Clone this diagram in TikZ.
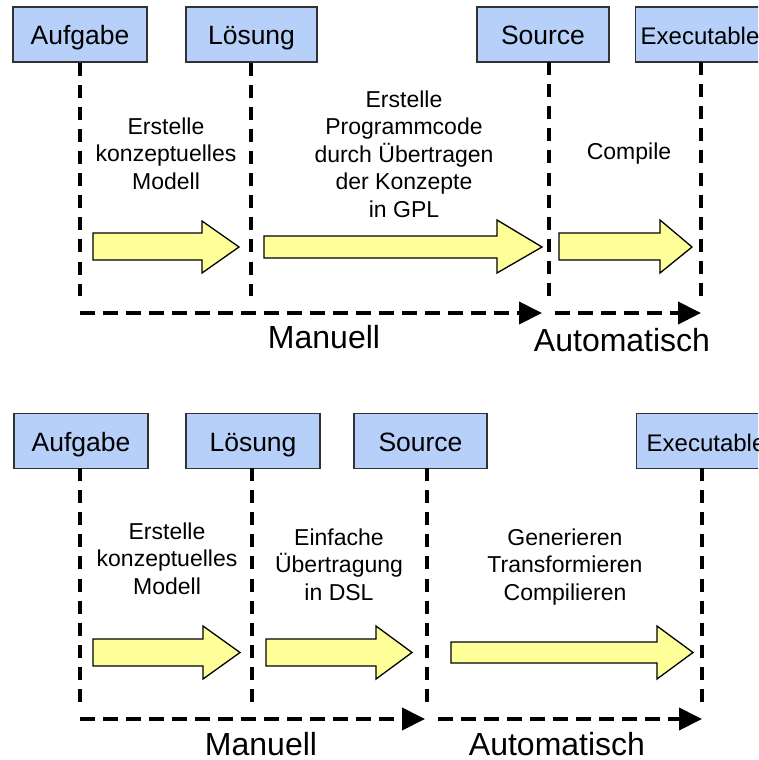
\documentclass[tikz,border=0pt]{standalone}
\usepackage{fontspec}
\setmainfont{Liberation Sans}
\usetikzlibrary{arrows.meta}
\definecolor{boxblue}{RGB}{183,208,250}
\definecolor{boxline}{RGB}{50,50,50}
\definecolor{arrowyellow}{RGB}{255,255,153}
\begin{document}
\begin{tikzpicture}[x=1pt,y=-1pt,
  stagebox/.style={draw=boxline,line width=1.3pt,fill=boxblue,inner sep=0pt,
    minimum height=55pt,text height=21pt,text depth=0pt,
    font=\fontsize{26.5}{30}\selectfont},
  exebox/.style={stagebox,anchor=west,minimum width=150pt,text width=140pt,
    align=left,font=\fontsize{24}{28}\selectfont,text height=20pt},
  lifeline/.style={line width=4pt,dash pattern=on 13pt off 9.1pt},
  flowline/.style={line width=4pt,dash pattern=on 15pt off 8pt,
    -{Triangle[length=23pt,width=22pt]}},
  % multi-line notes: the base anchor sits on the last line
  stepnote/.style={align=center,anchor=base,inner sep=0pt,
    font=\fontsize{23}{27.5}\selectfont},
  modelabel/.style={anchor=base,inner sep=0pt,font=\fontsize{32}{36}\selectfont},
  blockarrow/.style={draw=black,line width=1.3pt,fill=arrowyellow,line join=miter}]
\useasboundingbox (0,0) rectangle (758,760);
\clip (0,0) rectangle (758,760);

% ---------- upper row: classic development ----------
\node[stagebox,minimum width=134pt] (aufg1) at (80,34.5) {Aufgabe};
\node[stagebox,minimum width=131pt] (loes1) at (251.5,34.5) {Lösung};
\node[stagebox,minimum width=132pt] (src1) at (543,34.5) {Source};
\node[exebox,inner xsep=3pt] (exe1) at (635,34.5) {Executable};

\coordinate (a1e) at (80,296);
\coordinate (l1e) at (251,296);
\coordinate (s1s) at (549,62);
\coordinate (s1e) at (549,296);
\coordinate (e1s) at (701,62);
\coordinate (e1e) at (701,296);
\draw[lifeline] (aufg1.south) -- (a1e);
\draw[lifeline] (loes1.south -| l1e) -- (l1e);
\draw[lifeline] (s1s) -- (s1e);
\draw[lifeline] (e1s) -- (e1e);

\coordinate (m1a) at (80,313);
\coordinate (m1b) at (542,313);
\coordinate (m1c) at (555,313);
\coordinate (m1d) at (701,313);
\draw[flowline] (m1a) -- (m1b);
\draw[flowline] (m1c) -- (m1d);

\draw[blockarrow] (93,233) -- (202,233) -- (202,221) -- (239,247)
  -- (202,273) -- (202,260) -- (93,260) -- cycle;
\draw[blockarrow] (264,236) -- (497,236) -- (497,220) -- (542,247)
  -- (497,273) -- (497,258) -- (264,258) -- cycle;
\draw[blockarrow] (559,233) -- (660,233) -- (660,220) -- (692,247)
  -- (660,273) -- (660,260) -- (559,260) -- cycle;

\node[stepnote] (n11) at (166,189) {Erstelle\\konzeptuelles\\Modell};
\node[stepnote] (n12) at (404,217) {Erstelle\\Programmcode\\durch Übertragen\\der Konzepte\\in GPL};
\node[stepnote] (n13) at (629,159) {Compile};

\node[modelabel] (man1) at (324,348) {Manuell};
\node[modelabel] (aut1) at (622,351) {Automatisch};

% ---------- lower row: model-driven development ----------
\node[stagebox,minimum width=134pt] (aufg2) at (81,441) {Aufgabe};
\node[stagebox,minimum width=134pt] (loes2) at (253,441) {Lösung};
\node[stagebox,minimum width=133pt] (src2) at (420.5,441) {Source};
\node[exebox,inner xsep=10pt] (exe2) at (636,441) {Executable};

\coordinate (a2s) at (80,468);
\coordinate (a2e) at (80,702);
\coordinate (l2s) at (252,468);
\coordinate (l2e) at (252,702);
\coordinate (s2s) at (427,468);
\coordinate (s2e) at (427,702);
\coordinate (e2s) at (702,468);
\coordinate (e2e) at (702,702);
\draw[lifeline] (a2s) -- (a2e);
\draw[lifeline] (l2s) -- (l2e);
\draw[lifeline] (s2s) -- (s2e);
\draw[lifeline] (e2s) -- (e2e);

\coordinate (m2a) at (80,719);
\coordinate (m2b) at (425,719);
\coordinate (m2c) at (438,719);
\coordinate (m2d) at (702,719);
\draw[flowline] (m2a) -- (m2b);
\draw[flowline] (m2c) -- (m2d);

\draw[blockarrow] (93,639) -- (203,639) -- (203,626) -- (240,652.5)
  -- (203,679) -- (203,666) -- (93,666) -- cycle;
\draw[blockarrow] (266,639) -- (376,639) -- (376,626) -- (412,652.5)
  -- (376,679) -- (376,666) -- (266,666) -- cycle;
\draw[blockarrow] (451,642) -- (657,642) -- (657,626) -- (693,652.5)
  -- (657,679) -- (657,663) -- (451,663) -- cycle;

\node[stepnote] (n21) at (167,594) {Erstelle\\konzeptuelles\\Modell};
\node[stepnote] (n22) at (339,600) {Einfache\\Übertragung\\in DSL};
\node[stepnote] (n23) at (565,600) {Generieren\\Transformieren\\Compilieren};

\node[modelabel] (man2) at (261,755) {Manuell};
\node[modelabel] (aut2) at (557,755) {Automatisch};
\end{tikzpicture}
\end{document}
